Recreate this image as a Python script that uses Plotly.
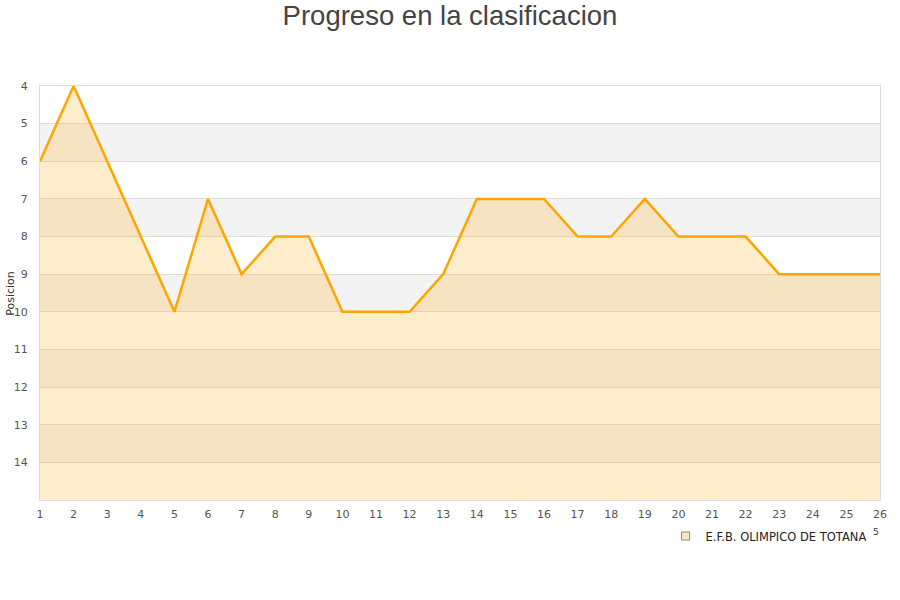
import plotly.graph_objects as go

jornadas = list(range(1, 27))
posiciones = [6, 4, 6, 8, 10, 7, 9, 8, 8, 10, 10, 10, 9, 7, 7, 7, 8, 8, 7, 8, 8, 8, 9, 9, 9, 9]
equipo = "E.F.B. OLIMPICO DE TOTANA"
y_ticks = list(range(4, 15))
y_min, y_max = 4, 15

fig = go.Figure()

# baseline for fill
fig.add_trace(go.Scatter(x=jornadas, y=[y_max] * len(jornadas), mode="lines",
                         line=dict(width=0, color="rgba(0,0,0,0)"),
                         showlegend=False, hoverinfo="skip"))
fig.add_trace(go.Scatter(x=jornadas, y=posiciones, mode="lines", fill="tonexty",
                         fillcolor="rgba(255,165,0,0.2)",
                         line=dict(color="#FFA500", width=2.5),
                         showlegend=False, name=equipo))
# legend entry
fig.add_trace(go.Scatter(x=[None], y=[None], mode="markers", name=equipo,
                         marker=dict(symbol="square", size=8, color="#FFE8BF",
                                     line=dict(color="#888888", width=1))))

shapes = []
for k in range(y_min, y_max):
    if k % 2 == 1:
        shapes.append(dict(type="rect", xref="paper", yref="y", x0=0, x1=1,
                           y0=k, y1=k + 1, fillcolor="#F3F3F3", line=dict(width=0),
                           layer="below"))

fig.update_layout(
    width=900, height=600,
    margin=dict(l=40, r=20, t=86, b=100),
    paper_bgcolor="white", plot_bgcolor="white",
    font=dict(family="DejaVu Sans", size=11, color="#555555"),
    title=dict(text="Progreso en la clasificacion", x=0.5, xanchor="center",
               y=0.975, yanchor="middle",
               font=dict(family="Liberation Sans", size=27.5, color="#444444")),
    shapes=shapes,
    showlegend=True,
    legend=dict(x=0.99, xanchor="right", y=-0.087, yanchor="middle",
                font=dict(size=11.5, color="#222222"), bgcolor="rgba(0,0,0,0)",
                itemwidth=30),
    xaxis=dict(range=[1, 26], tickmode="array", tickvals=jornadas,
               showgrid=False, zeroline=False, showline=True, linecolor="#DDDDDD",
               mirror=True, ticks="", ticklabelstandoff=4, automargin=False),
    yaxis=dict(range=[y_max, y_min], tickmode="array", tickvals=y_ticks,
               showgrid=True, gridcolor="#E2DCCF", gridwidth=1, zeroline=False,
               showline=True, linecolor="#DDDDDD", mirror=True, ticks="",
               ticklabelstandoff=9, automargin=False),
    annotations=[dict(text="Posicion", xref="paper", yref="paper",
                      x=-0.036, y=0.5, textangle=-90, showarrow=False,
                      xanchor="center", yanchor="middle",
                      font=dict(size=11, color="#333333")),
                 dict(text="5", xref="paper", yref="paper",
                      x=(876 - 40) / 840, y=-32 / 414, showarrow=False,
                      xanchor="center", yanchor="middle",
                      font=dict(size=9, color="#333333"))],
)

fig.write_html("out.html",
               config={"displayModeBar": False},
               post_script="document.body.style.margin='0';document.body.style.overflow='hidden';")
